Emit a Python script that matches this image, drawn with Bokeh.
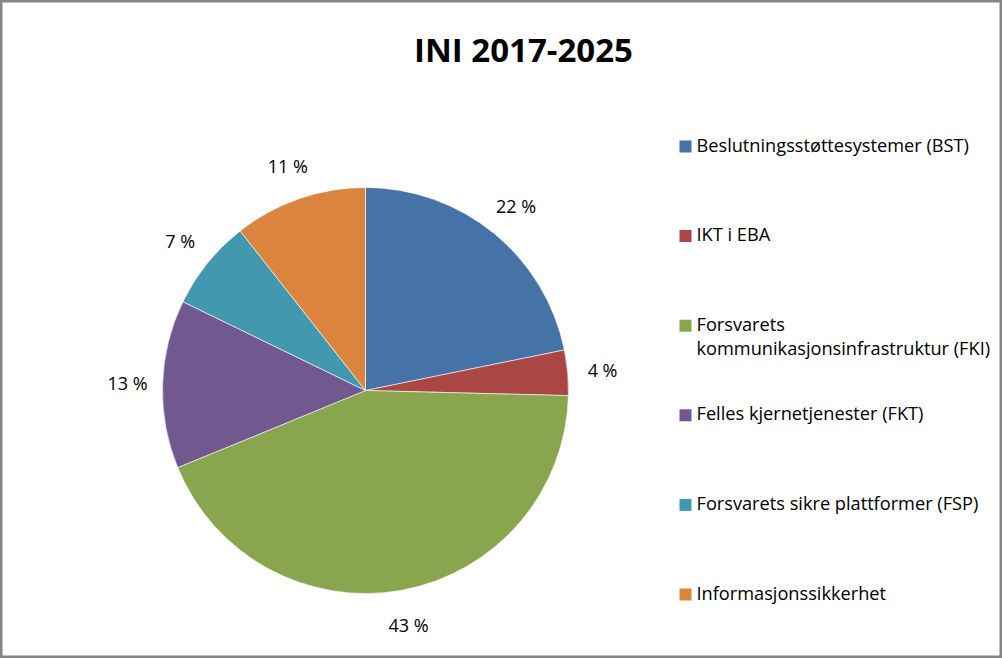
import math
from bokeh.plotting import figure
from bokeh.models import ColumnDataSource, Range1d
from bokeh.core.properties import value
from bokeh.embed import file_html
from bokeh.resources import INLINE

# ---- data ----
title_text = "INI 2017-2025"
categories = [
    "Beslutningsstøttesystemer (BST)",
    "IKT i EBA",
    "Forsvarets\nkommunikasjonsinfrastruktur (FKI)",
    "Felles kjernetjenester (FKT)",
    "Forsvarets sikre plattformer (FSP)",
    "Informasjonssikkerhet",
]
shares = [21.8, 3.6, 43.4, 13.4, 7.2, 10.6]
pct_labels = ["22 %", "4 %", "43 %", "13 %", "7 %", "11 %"]
colors = ["#4572A7", "#AA4643", "#89A54E", "#71588F", "#4198AF", "#DB843D"]

W, H = 1002, 658
FONT = "Open Sans"

p = figure(width=W, height=H, output_backend="svg", toolbar_location=None,
           x_range=Range1d(0, W), y_range=Range1d(0, H),
           min_border=0, min_border_left=0, min_border_right=0,
           min_border_top=0, min_border_bottom=0)
p.axis.visible = False
p.grid.visible = False
p.background_fill_color = "white"
p.border_fill_color = "white"
p.outline_line_color = "#868686"
p.outline_line_width = 4

# ---- pie ----
cx, cy, r = 365, H - 390, 203
total = sum(shares)
starts, ends, mids = [], [], []
cum = 0.0
for s in shares:
    a0 = math.pi / 2 - cum / total * 2 * math.pi
    cum += s
    a1 = math.pi / 2 - cum / total * 2 * math.pi
    starts.append(a0)
    ends.append(a1)
    mids.append((a0 + a1) / 2)

src = ColumnDataSource(dict(start=starts, end=ends, color=colors))
p.wedge(x=cx, y=cy, radius=r, start_angle="start", end_angle="end",
        direction="clock", fill_color="color", line_color="white",
        line_width=0.6, source=src)

lr = 238
lab_src = ColumnDataSource(dict(
    x=[cx + lr * math.cos(m) for m in mids],
    y=[cy + lr * math.sin(m) for m in mids],
    t=pct_labels))
p.text(x="x", y="y", text="t", source=lab_src, text_font=value(FONT),
       text_font_size="18px", text_color="#000000",
       text_align="center", text_baseline="middle")

# ---- title ----
p.text(x=[523], y=[H - 49], text=[title_text], text_font=value(FONT),
       text_font_style="bold", text_font_size="33px", text_color="#000000",
       text_align="center", text_baseline="middle")

# ---- legend ----
leg_x, leg_y0, leg_step = 685, H - 146, 89.6
ly = [leg_y0 - i * leg_step for i in range(len(categories))]
p.rect(x=[leg_x] * len(categories), y=ly, width=12, height=12,
       width_units="screen", height_units="screen",
       fill_color=colors, line_color=None)
p.text(x=[leg_x + 11] * len(categories), y=[v + 14 for v in ly],
       text=categories, text_font=value(FONT), text_font_size="18.2px",
       text_color="#000000", text_align="left", text_baseline="top",
       text_line_height=1.03)

open("out.html", "w").write(file_html(p, INLINE))
